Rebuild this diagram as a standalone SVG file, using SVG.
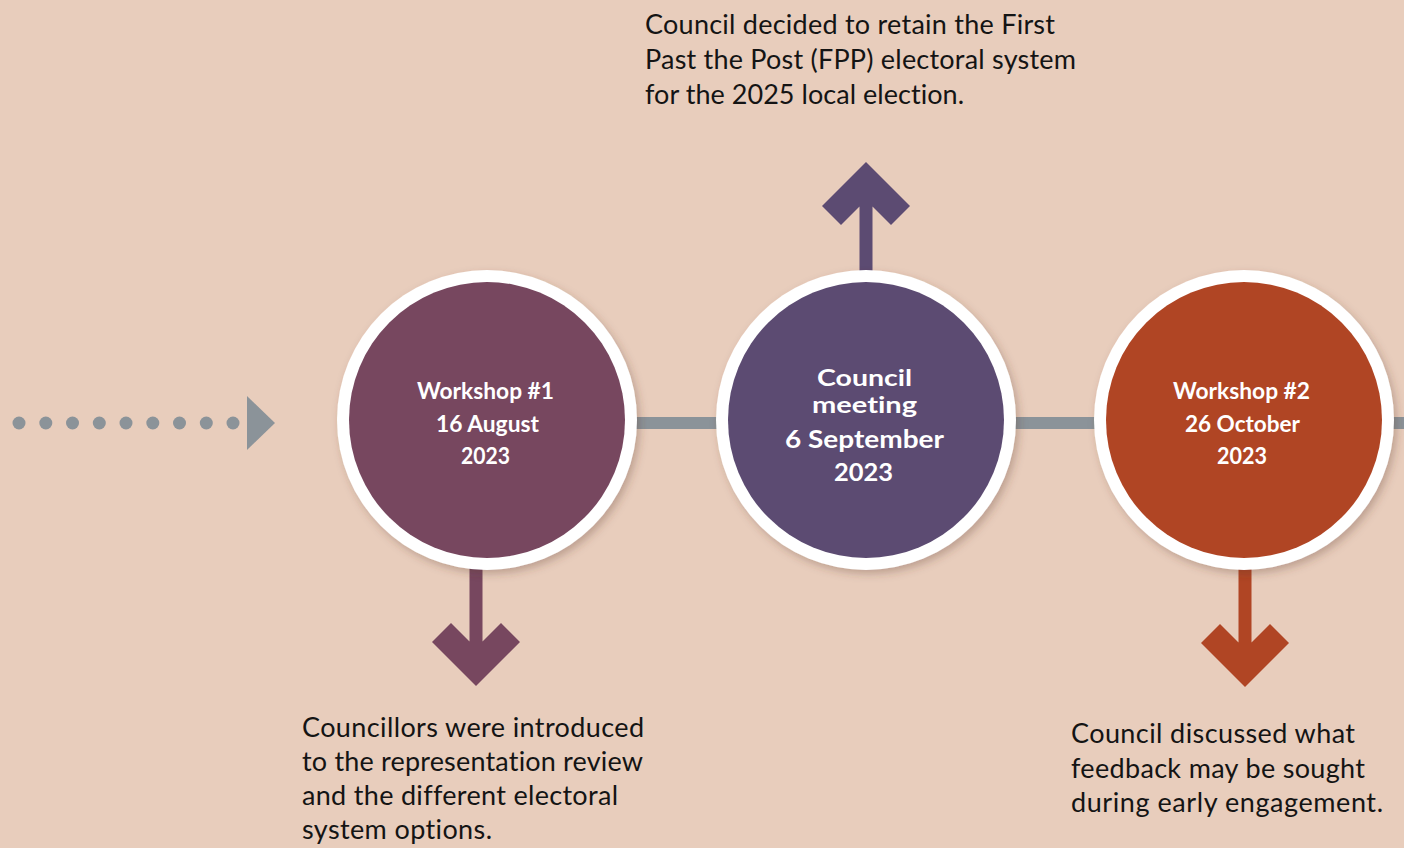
<svg xmlns="http://www.w3.org/2000/svg" width="1404" height="848" viewBox="0 0 1404 848">
<style>
.body{font-family:Lato,"Noto Sans",sans-serif;font-size:27px;fill:#141414;font-variant-ligatures:none}
.lbl{font-family:Lato,"Noto Sans",sans-serif;font-weight:bold;fill:#ffffff;text-anchor:middle;font-variant-ligatures:none}
.ring{fill:#ffffff}
.dot{fill:#8b9399}
</style>
<defs>
<filter id="sh" x="-20%" y="-20%" width="140%" height="140%">
<feDropShadow dx="3" dy="4" stdDeviation="4" flood-color="#5a3a2a" flood-opacity="0.3"/>
</filter>
</defs>
<rect width="1404" height="848" fill="#e8cdbc"/>
<g id="start-arrow">
<circle class="dot" cx="19" cy="423" r="6.5"/>
<circle class="dot" cx="45.8" cy="423" r="6.5"/>
<circle class="dot" cx="72.5" cy="423" r="6.5"/>
<circle class="dot" cx="99.3" cy="423" r="6.5"/>
<circle class="dot" cx="126" cy="423" r="6.5"/>
<circle class="dot" cx="152.8" cy="423" r="6.5"/>
<circle class="dot" cx="179.5" cy="423" r="6.5"/>
<circle class="dot" cx="206.3" cy="423" r="6.5"/>
<circle class="dot" cx="233" cy="423" r="6.5"/>
<polygon class="dot" points="247,396 275,423 247,450"/>
</g>
<g id="connectors">
<rect x="487" y="417" width="917" height="12" fill="#8b9399"/>
<polygon fill="#77475f" points="476,686 520,642 501,623 482.5,641.5 482.5,560 469.5,560 469.5,641.5 451,623 432,642"/>
<polygon fill="#5c4b72" points="866,162 910,206 891,225 872.5,206.5 872.5,280 859.5,280 859.5,206.5 841,225 822,206"/>
<polygon fill="#b04524" points="1245,687 1289,643 1270,624 1251.5,642.5 1251.5,560 1238.5,560 1238.5,642.5 1220,624 1201,643"/>
</g>
<g id="node-workshop1">
<circle class="ring" cx="487" cy="420" r="150" filter="url(#sh)"/>
<circle cx="487" cy="420" r="138" fill="#77475f"/>
<text class="lbl" font-size="22" x="485.5" y="399" textLength="137" lengthAdjust="spacingAndGlyphs">Workshop #1</text>
<text class="lbl" font-size="22" x="487.5" y="432" textLength="103" lengthAdjust="spacingAndGlyphs">16 August</text>
<text class="lbl" font-size="22" x="485.5" y="464" textLength="49" lengthAdjust="spacingAndGlyphs">2023</text>
</g>
<g id="node-council-meeting">
<circle class="ring" cx="866" cy="420" r="150" filter="url(#sh)"/>
<circle cx="866" cy="420" r="138" fill="#5c4b72"/>
<text class="lbl" font-size="22" x="864.5" y="386" textLength="95" lengthAdjust="spacingAndGlyphs">Council</text>
<text class="lbl" font-size="22" x="864.5" y="413" textLength="105" lengthAdjust="spacingAndGlyphs">meeting</text>
<text class="lbl" font-size="24" x="864.5" y="448" textLength="159" lengthAdjust="spacingAndGlyphs">6 September</text>
<text class="lbl" font-size="24" x="863.5" y="481" textLength="59" lengthAdjust="spacingAndGlyphs">2023</text>
</g>
<g id="node-workshop2">
<circle class="ring" cx="1244" cy="420" r="150" filter="url(#sh)"/>
<circle cx="1244" cy="420" r="138" fill="#b04524"/>
<text class="lbl" font-size="22" x="1241.5" y="399" textLength="137" lengthAdjust="spacingAndGlyphs">Workshop #2</text>
<text class="lbl" font-size="22" x="1242.5" y="432" textLength="115" lengthAdjust="spacingAndGlyphs">26 October</text>
<text class="lbl" font-size="22" x="1242" y="464" textLength="50" lengthAdjust="spacingAndGlyphs">2023</text>
</g>
<g id="text-top">
<text class="body" x="645" y="34" textLength="410">Council decided to retain the First</text>
<text class="body" x="645" y="69" textLength="431">Past the Post (FPP) electoral system</text>
<text class="body" x="645" y="104" textLength="319">for the 2025 local election.</text>
</g>
<g id="text-bottom-left">
<text class="body" x="302" y="737" textLength="342">Councillors were introduced</text>
<text class="body" x="302" y="771" textLength="341">to the representation review</text>
<text class="body" x="302" y="805" textLength="316">and the different electoral</text>
<text class="body" x="302" y="839" textLength="190">system options.</text>
</g>
<g id="text-bottom-right">
<text class="body" x="1071" y="743" textLength="284">Council discussed what</text>
<text class="body" x="1071" y="778" textLength="294">feedback may be sought</text>
<text class="body" x="1071" y="812" textLength="312">during early engagement.</text>
</g>
</svg>
